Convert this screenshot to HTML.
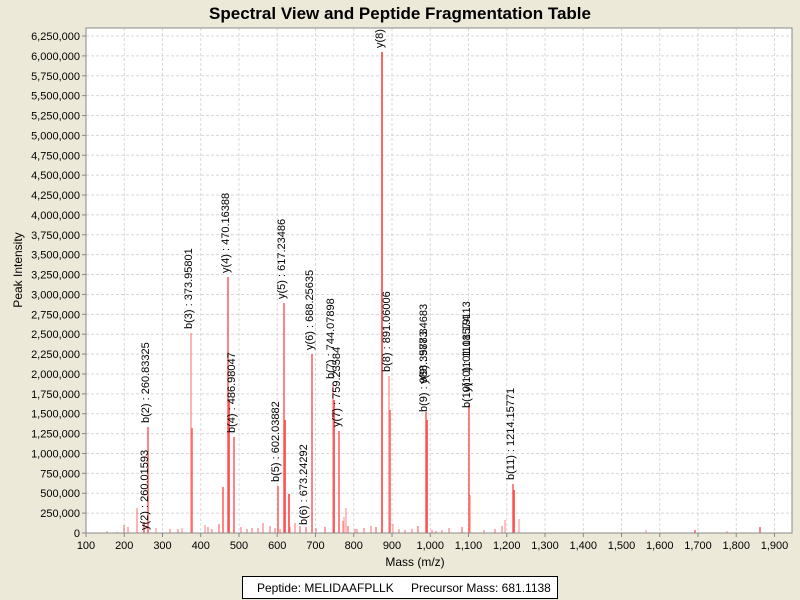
<!DOCTYPE html>
<html><head><meta charset="utf-8"><style>
html,body{margin:0;padding:0;background:#ECE9D8;}
svg{display:block;font-family:"Liberation Sans",sans-serif;}
</style></head><body>
<svg width="800" height="600" viewBox="0 0 800 600" xmlns="http://www.w3.org/2000/svg">
<rect width="800" height="600" fill="#ECE9D8"/>
<text x="400" y="19" text-anchor="middle" font-size="17" font-weight="bold" fill="#000">Spectral View and Peptide Fragmentation Table</text>
<rect x="86" y="28" width="706" height="505" fill="#fff"/>
<g stroke="#d8d8d8" stroke-width="1" stroke-dasharray="3,2" id="grid"></g>
<defs><clipPath id="c"><rect x="86" y="28" width="706" height="505"/></clipPath></defs>
<g id="peaks" clip-path="url(#c)"></g>
<g id="labels" clip-path="url(#c)" font-size="11" fill="#000"></g>
<rect x="86" y="28" width="706" height="505" fill="none" stroke="#888" stroke-width="1"/>
<g id="axes" font-size="11" fill="#000"></g>
<text transform="translate(22,270) rotate(-90)" text-anchor="middle" font-size="12">Peak Intensity</text>
<text x="415" y="566" text-anchor="middle" font-size="12">Mass (m/z)</text>
<rect x="242.5" y="576.5" width="315" height="22" fill="#fff" stroke="#000"/>
<text x="257" y="592" font-size="12">Peptide: MELIDAAFPLLK</text>
<text x="411" y="592" font-size="12">Precursor Mass: 681.1138</text>
</svg>
<script>
var NS="http://www.w3.org/2000/svg";
function el(p,t,a,txt){var e=document.createElementNS(NS,t);for(var k in a)e.setAttribute(k,a[k]);if(txt)e.textContent=txt;document.getElementById(p).appendChild(e);return e;}
function X(m){return 86+(m-100)*0.3825;}
function Y(v){return 533-v*0.00007952;}
for(var i=1;i<=25;i++){var y=Y(i*250000);el("grid","line",{x1:86,x2:792,y1:y,y2:y});}
for(var m=200;m<=1900;m+=100){var x=X(m);el("grid","line",{x1:x,x2:x,y1:28,y2:533});}
for(var i=0;i<=25;i++){var v=i*250000,y=Y(v);el("axes","line",{x1:82,x2:86,y1:y,y2:y,stroke:"#888"});
el("axes","text",{x:80,y:y+4,"text-anchor":"end"},v.toLocaleString("en-US"));}
for(var m=100;m<=1900;m+=100){var x=X(m);el("axes","line",{x1:x,x2:x,y1:533,y2:537,stroke:"#888"});
el("axes","text",{x:x,y:549,"text-anchor":"middle"},m.toLocaleString("en-US"));}
var P=[[382,52,1],[389,376,.5],[390,410,.8],[191,333,.5],[192,428,.8],[228,277,.8],[229,400,1],[234,437,.8],[278,486,.8],[284,303,.8],[285,420,1],[289,494,1],[312,354,.8],[333,383,.5],[334,400,1],[339,431,.8],[426,412,.8],[427,420,1],[469,405,.8],[470,495,.5],[513,484,.8],[514,490,1],[519,519,.4],[148,427,.8],[144,522,.8],[137,508,.5],[124,525,.5],[128,527,.5],[223,487,.8],[219,524,.6],[205,525,.4],[182,528,.4],[263,523,.5],[247,529,.5],[252,528,.5],[258,528,.5],[270,526,.5],[295,523,.5],[300,526,.6],[306,527,.6],[316,528,.5],[325,527,.6],[343,521,.5],[344,517,.4],[346,508,.4],[348,526,.6],[357,529,.5],[371,526,.5],[376,527,.6],[393,524,.4],[412,529,.5],[418,526,.6],[432,530,.5],[449,528,.5],[462,527,.6],[484,530,.5],[495,529,.5],[502,526,.5],[505,520,.4],[646,530,.4],[695,530,.8],[727,531,.4],[760,527,.8],[107,531,.4],[117,532,.4],[156,528,.4],[170,529,.5],[178,529,.5],[241,527,.5],[212,529,.5],[208,527,.5],[290,527,.5],[280,529,.5],[275,528,.5],[355,529,.5],[364,528,.5],[399,529,.5],[405,530,.5],[436,531,.5],[442,530,.5]];
P.forEach(function(p){el("peaks","line",{x1:p[0],x2:p[0],y1:p[1],y2:533,stroke:"#ff4040","stroke-opacity":p[2]*0.8,"stroke-width":2});});
var L=[[148,530,"y(2) : 260.01593"],[149,423,"b(2) : 260.83325"],[192,329,"b(3) : 373.95801"],[229,273,"y(4) : 470.16388"],[235,433,"b(4) : 486.98047"],[279,482,"b(5) : 602.03882"],[285,299,"y(5) : 617.23486"],[307,525,"b(6) : 673.24292"],[313,350,"y(6) : 688.25635"],[334,379,"b(7) : 744.07898"],[340,427,"y(7) : 759.23584"],[383,48,"y(8) : 872.06006"],[390,372,"b(8) : 891.06006"],[427,412,"b(9) : 988.35783"],[427,384,"y(9) : 987.34683"],[470,408,"b(10) : 1101.18574"],[470,392,"y(10) : 1101.19113"],[514,480,"b(11) : 1214.15771"]];
L.forEach(function(l){el("labels","text",{transform:"translate("+l[0]+","+l[1]+") rotate(-90)"},l[2]);});
</script>
</body></html>
